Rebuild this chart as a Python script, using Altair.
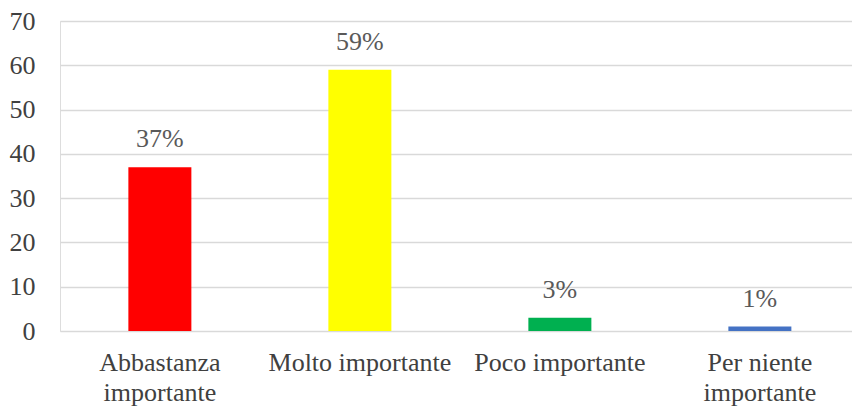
import altair as alt
import pandas as pd

categories = ["Abbastanza importante", "Molto importante", "Poco importante", "Per niente importante"]
values = [37, 59, 3, 1]
labels = ["37%", "59%", "3%", "1%"]
colors = ["#FF0000", "#FFFF00", "#00B050", "#4472C4"]

df = pd.DataFrame({"cat": categories, "val": values, "lab": labels, "col": colors})

FONT = "Liberation Serif"

label_expr = (
    "datum.value == 'Abbastanza importante' ? ['Abbastanza', 'importante'] : "
    "datum.value == 'Per niente importante' ? ['Per niente', 'importante'] : datum.value"
)

x = alt.X(
    "cat:N",
    sort=categories,
    title=None,
    scale=alt.Scale(paddingInner=0.685, paddingOuter=0.3225, align=0.53),
    axis=alt.Axis(
        labelAngle=0,
        labelExpr=label_expr,
        labelFontSize=26,
        labelColor="#404040",
        labelLineHeight=30,
        labelPadding=18,
        labelBaseline="top",
        ticks=False,
        domain=False,
        grid=False,
        labelLimit=300,
    ),
)

y = alt.Y(
    "val:Q",
    title=None,
    scale=alt.Scale(domain=[0, 70], nice=False),
    axis=alt.Axis(
        values=[0, 10, 20, 30, 40, 50, 60, 70],
        labelFontSize=26,
        labelColor="#404040",
        labelPadding=25,
        ticks=False,
        domain=False,
        grid=True,
        gridColor="#D9D9D9",
        gridWidth=1.5,
    ),
)

bars = alt.Chart(df).mark_bar().encode(
    x=x,
    y=y,
    color=alt.Color("col:N", scale=None, legend=None),
)

text = alt.Chart(df).mark_text(
    fontSize=26, color="#595959", baseline="alphabetic", dy=-20
).encode(x=alt.X("cat:N", sort=categories), y="val:Q", text="lab:N")

chart = (
    alt.layer(bars, text)
    .properties(
        width=792,
        height=310,
        autosize=alt.AutoSizeParams(type="none"),
        padding={"left": 60, "top": 21, "right": 0, "bottom": 75},
    )
    .configure_view(stroke=None)
    .configure_axis(labelFont=FONT)
    .configure_text(font=FONT)
    .configure(font=FONT)
)

chart.save("out.html", embed_options={"renderer": "svg", "actions": False})
